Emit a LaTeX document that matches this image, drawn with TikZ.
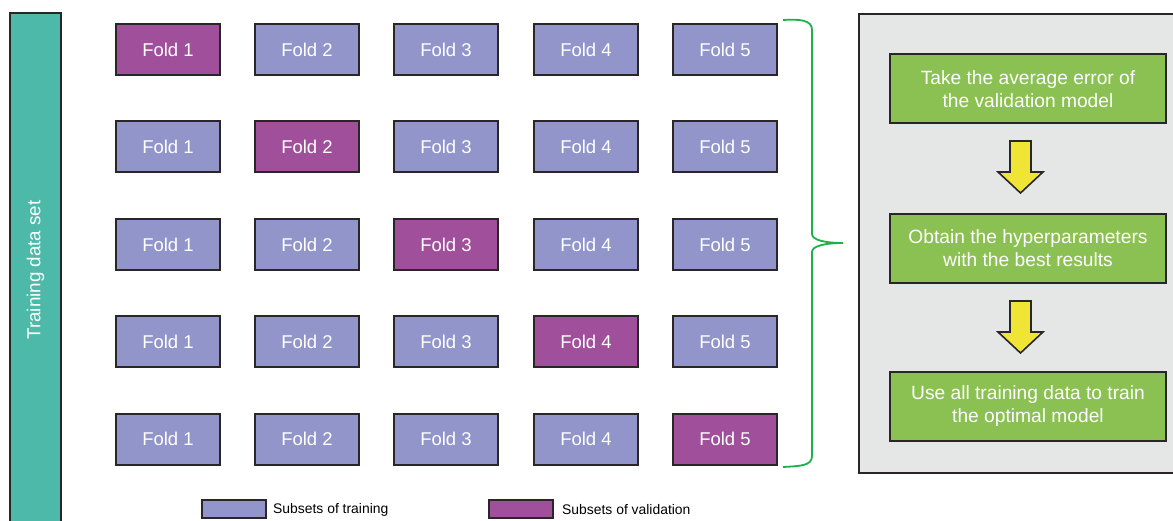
\documentclass[tikz,border=0pt]{standalone}
\usepackage{fontspec}
\setmainfont{Liberation Sans}
\definecolor{teal1}{HTML}{4CB9A9}
\definecolor{valc}{HTML}{A0509B}
\definecolor{trc}{HTML}{9195C9}
\definecolor{grn}{HTML}{8BC153}
\definecolor{panelc}{HTML}{E5E6E6}
\definecolor{yel}{HTML}{F0E537}
\definecolor{brc}{HTML}{1FAF4B}
\definecolor{edge}{HTML}{2A2627}
\begin{document}
\begin{tikzpicture}[x=1pt,y=-1pt,
  fold/.style={draw=edge,line width=2pt,minimum width=104pt,minimum height=51pt,inner sep=0pt,text=white,font=\fontsize{18.5}{22}\selectfont},
  tr/.style={fold,fill=trc},
  va/.style={fold,fill=valc},
  stepbox/.style={draw=edge,line width=2pt,fill=grn,minimum width=276pt,minimum height=69pt,inner sep=0pt,text=white,align=center,font=\fontsize{19.2}{23}\selectfont},
  blockarrow/.style={draw=edge,line width=1.6pt,fill=yel,line join=miter},
  legbox/.style={draw=edge,line width=1.6pt,minimum width=64pt,minimum height=18pt,inner sep=0pt},
  legtext/.style={anchor=west,inner sep=0pt,font=\fontsize{13.9}{16}\selectfont}
]
\clip (0,0) rectangle (1173,521);
\fill[white] (0,0) rectangle (1173,521);
% left bar
\draw[edge,line width=2pt,fill=teal1] (10,540) -- (10,13) -- (61,13) -- (61,540);
\node[rotate=90,text=white,font=\fontsize{18.8}{22}\selectfont] (bar) at (35.5,270) {Training data set};
% right panel
\draw[edge,line width=2pt,fill=panelc] (1185,14) -- (859,14) -- (859,473) -- (1185,473);
% folds
\foreach \r/\y in {1/50,2/147,3/245,4/342,5/439}{
  \foreach \c/\x in {1/168,2/307,3/446,4/586,5/725}{
    \ifnum\r=\c
      \node[va] (f\r\c) at (\x,\y) {Fold \c};
    \else
      \node[tr] (f\r\c) at (\x,\y) {Fold \c};
    \fi
  }
}
% brace
\draw[brc,line width=1.8pt] (783,20) .. controls (800,19) and (812,20) .. (812,30) -- (812,234)
  .. controls (812,240) and (825,243) .. (843,243)
  .. controls (825,243) and (812,246) .. (812,252) -- (812,456)
  .. controls (812,466) and (800,466) .. (783,467);
% green steps
\node[stepbox] (s1) at (1028,89) {Take the average error of\\the validation model};
\node[stepbox] (s2) at (1028,248.5) {Obtain the hyperparameters\\with the best results};
\node[stepbox] (s3) at (1028,406.5) {Use all training data to train\\the optimal model};
% block arrows
\draw[blockarrow] (1010,141) -- (1031,141) -- (1031,172) -- (1043,172) -- (1020.5,193) -- (998,172) -- (1010,172) -- cycle;
\draw[blockarrow] (1010,301) -- (1031,301) -- (1031,332) -- (1043,332) -- (1020.5,353) -- (998,332) -- (1010,332) -- cycle;
% legend
\node[legbox,fill=trc] (l1) at (234,509) {};
\node[legtext] (l1t) at (273,509.5) {Subsets of training};
\node[legbox,fill=valc] (l2) at (521,509) {};
\node[legtext] (l2t) at (562,509.5) {Subsets of validation};
\end{tikzpicture}
\end{document}
